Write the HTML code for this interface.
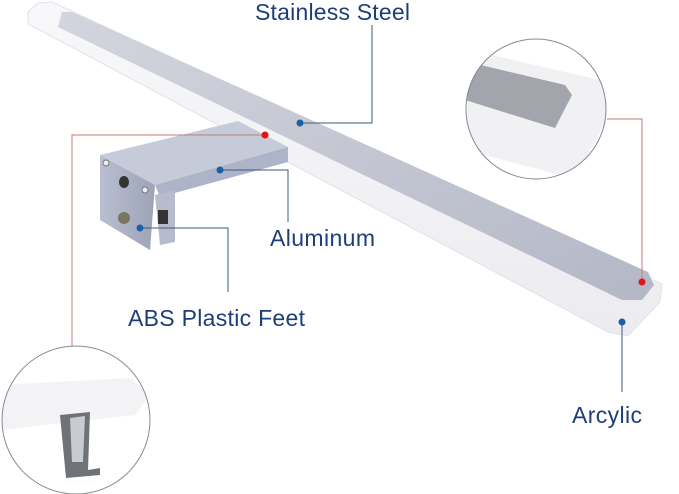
<!DOCTYPE html>
<html><head><meta charset="utf-8"><style>
html,body{margin:0;padding:0;background:#fff;}
svg{display:block;}
text{font-family:"Liberation Sans",sans-serif;fill:#1d3e78;font-size:23px;}
</style></head><body>
<svg width="679" height="494" viewBox="0 0 679 494">
<defs>
<linearGradient id="g1" x1="0" y1="0" x2="1" y2="1"><stop offset="0" stop-color="#d3d5de"/><stop offset="1" stop-color="#b4b7c6"/></linearGradient>
<linearGradient id="gb" x1="0" y1="0" x2="1" y2="0"><stop offset="0" stop-color="#b9bed0"/><stop offset="1" stop-color="#9ea4b8"/></linearGradient>
<linearGradient id="ac" x1="0" y1="0" x2="0" y2="1"><stop offset="0" stop-color="#f8f8fa"/><stop offset="1" stop-color="#ececf0"/></linearGradient>
<clipPath id="c1"><circle cx="536" cy="109" r="70"/></clipPath>
<clipPath id="c2"><circle cx="76" cy="420" r="74"/></clipPath>
</defs>
<polygon points="38,3,52,2,662,284,660,302,628,336,608,332,28,24,28,12" fill="url(#ac)" stroke="#e2e2e8"/>
<polygon points="62,12,72,12,648,272,654,285,642,300,622,300,58,27" fill="url(#g1)"/>
<polygon points="100,155,238,121,288,147,155,185" fill="#c6cbda"/>
<polygon points="155,185,288,147,288,162,160,197" fill="#aeb4c8"/>
<polygon points="100,155,155,185,150,250,100,220" fill="url(#gb)"/>
<polygon points="155,195,175,190,175,242,160,245" fill="#b7bccc"/>
<rect x="158" y="210" width="10" height="14" fill="#333"/>
<ellipse cx="124" cy="182" rx="5" ry="6" fill="#333"/>
<circle cx="124" cy="218" r="6" fill="#7a7560"/>
<circle cx="106" cy="163" r="3" fill="#eee" stroke="#777"/>
<circle cx="145" cy="190" r="3" fill="#eee" stroke="#777"/>
<g clip-path="url(#c1)">
<rect x="460" y="35" width="160" height="150" fill="#fff"/>
<polygon points="470,50,600,80,612,110,585,160,560,175,465,150" fill="#f1f1f4"/>
<polygon points="468,62,565,85,572,95,555,128,465,100" fill="#a3a5ac"/>
</g>
<circle cx="536" cy="109" r="70" fill="none" stroke="#7f8c94" stroke-width="1"/>
<g clip-path="url(#c2)">
<polygon points="0,385,130,378,150,395,135,415,0,430" fill="#f3f3f5"/>
<polygon points="60,415,90,412,88,470,100,468,100,475,66,478" fill="#6f7278"/>
<polygon points="70,418,85,416,83,462,72,462" fill="#c8cbd0"/>
</g>
<circle cx="76" cy="420" r="74" fill="none" stroke="#7f8c94" stroke-width="1"/>
<g fill="none" stroke-width="1">
<polyline points="300,123,372,123,372,25" stroke="#3d5a82"/>
<polyline points="220,170,288,170,288,222" stroke="#3d5a82"/>
<polyline points="140,228,228,228,228,292" stroke="#3d5a82"/>
<polyline points="622,322,622,392" stroke="#3d5a82"/>
<polyline points="265,135,72,135,72,346" stroke="#c97a7a"/>
<polyline points="607,119,642,119,642,282" stroke="#c97a7a"/>
</g>
<circle cx="300" cy="123" r="3.5" fill="#1b5fa8"/>
<circle cx="220" cy="170" r="3.5" fill="#1b5fa8"/>
<circle cx="140" cy="228" r="3.5" fill="#1b5fa8"/>
<circle cx="622" cy="322" r="3.5" fill="#1b5fa8"/>
<circle cx="265" cy="135" r="3.5" fill="#e01515"/>
<circle cx="642" cy="282" r="3.5" fill="#e01515"/>
<text x="255" y="20" textLength="155">Stainless Steel</text>
<text x="270" y="246" textLength="105">Aluminum</text>
<text x="128" y="326" textLength="177">ABS Plastic Feet</text>
<text x="572" y="423" textLength="70">Arcylic</text>
</svg>
</body></html>
